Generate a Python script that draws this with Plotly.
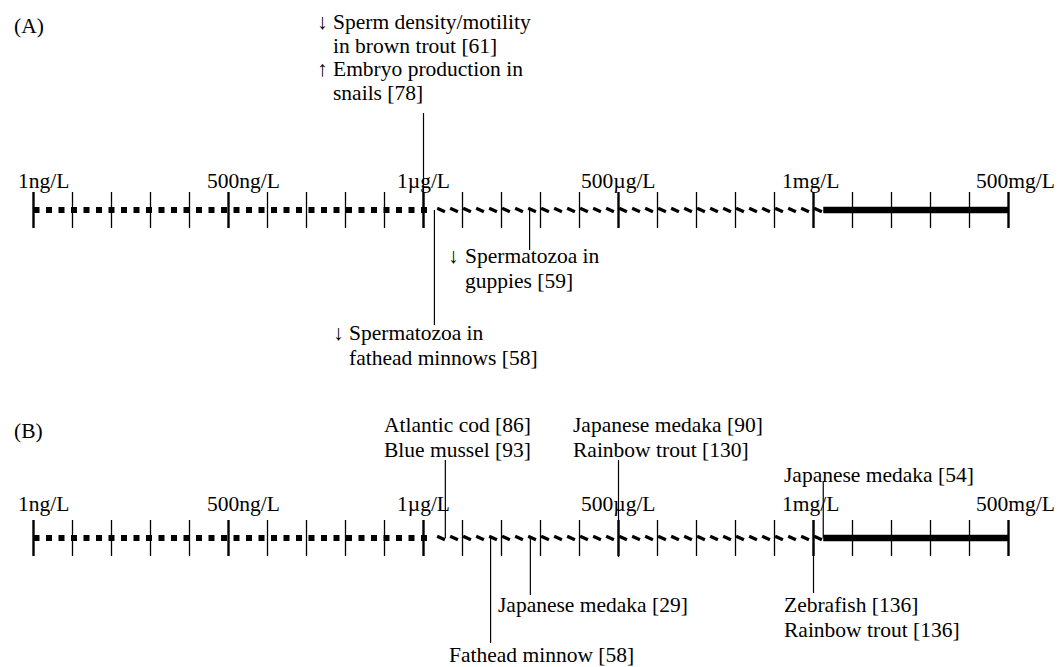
import numpy as np
import plotly.graph_objects as go

# ---------------- data ----------------
tick_index = list(range(26))                      # 25 equal intervals on the concentration scale
major_index = [0, 5, 10, 15, 20, 25]
tick_labels = ["1ng/L", "500ng/L", "1\u00b5g/L", "500\u00b5g/L", "1mg/L", "500mg/L"]
tick_label_pos = [0.26, 5.38, 10.0, 15.0, 19.92, 25.18]

# segment boundaries: dotted | hatched | solid
seg_bounds = [0.0, 10.25, 20.25, 25.0]

panel_names = ["(A)", "(B)"]
panel_base_y = [210, 538]          # vertical position of each timeline (px units, top=0)
panel_label_y = [26, 431]
tick_label_y = [181, 504]

# findings (leader position on the concentration scale)
note_panel = [0, 0, 0, 1, 1, 1, 1, 1, 1]
note_conc = [10.0, 12.72, 10.28, 10.56, 15.0, 20.25, 11.72, 12.74, 20.0]
note_lead_y0 = [113, 210, 210, 460, 460, 481, 538, 538, 520]
note_lead_y1 = [228, 250, 325, 538, 557, 538, 643, 595, 593]
note_text_x = [7.62, 11.0, 8.05, 8.94, 13.77, 19.2, 10.59, 11.87, 19.2]
note_text_y = [22, 256, 333, 425, 425, 475, 655, 605, 605]
note_gap = [23.5, 24.5, 24.5, 24.5, 24.5, 24.5, 24.5, 24.5, 24.5]
note_lines = [
    ["Sperm density/motility", "in brown trout [61]", "Embryo production in", "snails [78]"],
    ["Spermatozoa in", "guppies [59]"],
    ["Spermatozoa in", "fathead minnows [58]"],
    ["Atlantic cod [86]", "Blue mussel [93]"],
    ["Japanese medaka [90]", "Rainbow trout [130]"],
    ["Japanese medaka [54]"],
    ["Fathead minnow [58]"],
    ["Japanese medaka [29]"],
    ["Zebrafish [136]", "Rainbow trout [136]"],
]
note_arrows = [
    ["\u2193", "", "\u2191", ""],
    ["\u2193", ""],
    ["\u2193", ""],
    [""], [""], [""], [""], [""], [""],
]

# ---------------- style ----------------
BODY = 8                      # default page margin of the html body
PX0, PXU = 33.5, 39.0         # screen pixel of index 0 and pixels per index unit
W, H = 1063 - BODY, 667 - BODY
FONT = "Liberation Serif, Times New Roman, Times, serif"
FS = 21.5
TICK_HALF = 18
HATCH_STEP = 1 / 3

fig = go.Figure()

for p, base in enumerate(panel_base_y):
    # dotted segment
    fig.add_trace(go.Scatter(x=[seg_bounds[0], seg_bounds[1]], y=[base, base], mode="lines",
                             line=dict(color="black", width=6, dash="6px,6.5px"), hoverinfo="skip"))
    # hatched segment (short slanted strokes)
    hx, hy = [], []
    for c in np.arange(seg_bounds[1] + 0.2, seg_bounds[2] - 0.05, HATCH_STEP):
        hx += [c - 0.1, c + 0.1, None]
        hy += [base - 1.8, base + 1.8, None]
    fig.add_trace(go.Scatter(x=hx, y=hy, mode="lines",
                             line=dict(color="black", width=3.2), hoverinfo="skip"))
    # solid segment
    fig.add_trace(go.Scatter(x=[seg_bounds[2], seg_bounds[3]], y=[base, base], mode="lines",
                             line=dict(color="black", width=6.5), hoverinfo="skip"))
    # minor ticks
    mx, my = [], []
    for t in tick_index:
        if t not in major_index:
            mx += [t, t, None]
            my += [base - TICK_HALF, base + TICK_HALF, None]
    fig.add_trace(go.Scatter(x=mx, y=my, mode="lines",
                             line=dict(color="black", width=1.3), hoverinfo="skip"))
    # major ticks
    Mx, My = [], []
    for t in major_index:
        Mx += [t, t, None]
        My += [base - TICK_HALF, base + TICK_HALF, None]
    fig.add_trace(go.Scatter(x=Mx, y=My, mode="lines",
                             line=dict(color="black", width=2.4), hoverinfo="skip"))

# leader lines
lx, ly = [], []
for c, y0, y1 in zip(note_conc, note_lead_y0, note_lead_y1):
    lx += [c, c, None]
    ly += [y0, y1, None]
fig.add_trace(go.Scatter(x=lx, y=ly, mode="lines",
                         line=dict(color="black", width=1.2), hoverinfo="skip"))

ann = []
font = dict(family=FONT, size=FS, color="black")
for name, y in zip(panel_names, panel_label_y):
    ann.append(dict(x=-0.55, y=y, text=name, xanchor="left", yanchor="middle",
                    showarrow=False, font=font, xref="x", yref="y"))
for y in tick_label_y:
    for lab, pos in zip(tick_labels, tick_label_pos):
        ann.append(dict(x=pos, y=y, text=lab, xanchor="center", yanchor="middle",
                        showarrow=False, font=font, xref="x", yref="y"))
for tx, ty, gap, lines, arrows in zip(note_text_x, note_text_y, note_gap, note_lines, note_arrows):
    for k, line in enumerate(lines):
        yy = ty + k * gap
        ann.append(dict(x=tx, y=yy, text=line, xanchor="left", yanchor="middle",
                        showarrow=False, font=font, xref="x", yref="y"))
        if k < len(arrows) and arrows[k]:
            ann.append(dict(x=tx - 0.03, y=yy, text=arrows[k], xanchor="right", yanchor="middle",
                            showarrow=False, font=font, xref="x", yref="y"))

x_lo = -(PX0 - BODY) / PXU
x_hi = x_lo + W / PXU
fig.update_layout(
    width=W, height=H,
    margin=dict(l=0, r=0, t=0, b=0),
    paper_bgcolor="white", plot_bgcolor="white",
    showlegend=False,
    annotations=ann,
    xaxis=dict(range=[x_lo, x_hi], visible=False, fixedrange=True),
    yaxis=dict(range=[BODY + H, BODY], visible=False, fixedrange=True),
)

fig.write_html("out.html")
